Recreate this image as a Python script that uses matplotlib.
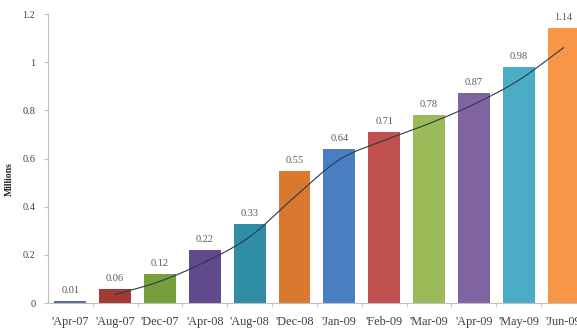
import numpy as np
import matplotlib.pyplot as plt

# Cumulative subscribers (millions) by month
months = ["'Apr-07", "'Aug-07", "'Dec-07", "'Apr-08", "'Aug-08", "'Dec-08",
          "'Jan-09", "'Feb-09", "'Mar-09", "'Apr-09", "'May-09", "'Jun-09"]
values = [0.01, 0.06, 0.12, 0.22, 0.33, 0.55, 0.64, 0.71, 0.78, 0.87, 0.98, 1.14]
colors = ['#5a6e9c', '#a33a35', '#76a03b', '#604a8c', '#2f8ea6', '#d9792f',
          '#4a7ec3', '#c0504d', '#9bbb59', '#8064a2', '#4bacc6', '#f79646']

plt.rcParams['font.family'] = ['Liberation Serif', 'DejaVu Serif']


def smooth(px, py, n=30):
    """Catmull-Rom curve through the given points."""
    px = np.asarray(px, float)
    py = np.asarray(py, float)
    xs, ys = [], []
    for i in range(len(px) - 1):
        i0, i3 = max(i - 1, 0), min(i + 2, len(px) - 1)
        mx0 = (px[i + 1] - px[i0]) / (i + 1 - i0)
        my0 = (py[i + 1] - py[i0]) / (i + 1 - i0)
        mx1 = (px[i3] - px[i]) / (i3 - i)
        my1 = (py[i3] - py[i]) / (i3 - i)
        t = np.linspace(0, 1, n)
        h00 = 2 * t**3 - 3 * t**2 + 1
        h10 = t**3 - 2 * t**2 + t
        h01 = -2 * t**3 + 3 * t**2
        h11 = t**3 - t**2
        xs.append(h00 * px[i] + h10 * mx0 + h01 * px[i + 1] + h11 * mx1)
        ys.append(h00 * py[i] + h10 * my0 + h01 * py[i + 1] + h11 * my1)
    return np.concatenate(xs), np.concatenate(ys)


fig = plt.figure(figsize=(5.77, 3.35), dpi=100)
ax = fig.add_axes([0.083, 0.0955, 0.917, 0.8627])

x = np.arange(len(values))
ax.bar(x, values, width=0.71, color=colors, zorder=2)

# value labels above each bar
for xi, v in zip(x, values):
    ax.text(xi, v + 0.025, '%.2f' % v, ha='center', va='bottom',
            fontsize=7.5, color='#595959')

# 2-period moving average trend line, smoothed
vals = np.array(values)
ma = (vals[1:] + vals[:-1]) / 2
sx, sy = smooth(x[1:], ma)
ax.plot(sx, sy, color='#2b3a4a', lw=0.8, zorder=3)

ax.set_xlim(-0.5, 11.3)
ax.set_ylim(0, 1.2)
ax.set_yticks([0, 0.2, 0.4, 0.6, 0.8, 1.0, 1.2])
ax.set_yticklabels(['0', '0.2', '0.4', '0.6', '0.8', '1', '1.2'])
ax.set_xticks(x)
ax.set_xticklabels(months)
ax.set_xticks(np.arange(0.5, 11.5, 1), minor=True)

ax.tick_params(axis='x', which='major', length=0, pad=9, labelsize=8.8,
               labelcolor='#404040')
ax.tick_params(axis='x', which='minor', length=3, color='#bfbfbf')
ax.tick_params(axis='y', length=3, color='#bfbfbf', labelsize=7.5,
               labelcolor='#404040', pad=6)

for s in ['top', 'right']:
    ax.spines[s].set_visible(False)
for s in ['left', 'bottom']:
    ax.spines[s].set_color('#bfbfbf')
    ax.spines[s].set_linewidth(0.8)

ax.set_ylabel('Millions', fontsize=7, fontweight='bold', color='#262626',
              labelpad=10)
ax.yaxis.set_label_coords(-0.065, 0.43)

fig.savefig('out.png', dpi=100)
